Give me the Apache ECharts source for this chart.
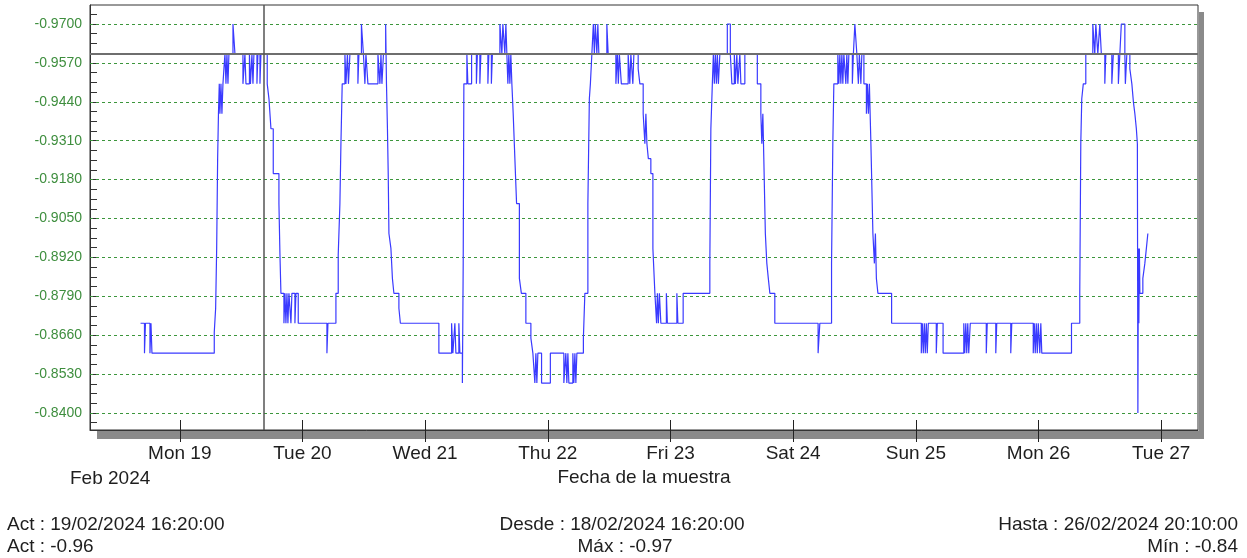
<!DOCTYPE html>
<html><head><meta charset="utf-8">
<script src="https://cdn.jsdelivr.net/npm/echarts@6/dist/echarts.min.js"></script>
<style>html,body{margin:0;padding:0;background:#fff}#c{width:1247px;height:558px}</style>
</head><body><div id="c"></div>
<script>
// sample change points: hours from Mon 19 Feb 2024 00:00, and value
const hoursFromMon19 = [
-7.67,-6.90,-6.71,-5.83,-5.63,-5.44,6.75,7.02,7.22,7.41,7.57,7.73,7.86,8.06,8.25,8.45,8.64,8.84,9.04,9.23,9.43,9.62,10.41,10.80,12.36,12.75,12.95,13.63,13.83,14.12,14.32,14.51,15.10,15.29,15.69,15.88,
17.11,17.45,17.84,18.29,19.40,19.60,19.79,20.38,20.58,20.77,20.97,21.16,21.36,21.75,21.94,22.53,22.73,23.18,28.79,28.99,
30.55,31.00,31.33,31.53,31.78,32.31,32.51,32.80,33.00,33.29,34.85,35.05,35.54,35.93,36.22,36.42,36.81,38.77,39.16,39.36,39.55,39.85,40.28,
40.44,40.63,40.78,40.92,41.31,41.60,41.89,42.87,43.16,50.69,53.18,53.43,53.82,54.02,54.60,54.80,55.29,55.45,55.58,
56.17,56.36,57.09,58.03,58.22,58.71,58.91,60.28,60.47,60.96,61.16,62.63,63.02,63.21,63.60,63.80,63.99,64.19,64.38,64.58,64.77,64.97,
65.23,65.56,65.89,66.44,66.83,67.71,68.69,69.08,69.47,69.67,69.86,70.06,70.78,72.50,75.14,75.53,75.73,75.93,76.12,76.90,77.10,77.30,77.49,77.69,
78.96,79.25,79.84,80.13,80.33,80.62,80.91,81.11,81.30,81.60,81.79,81.99,83.55,83.81,85.32,85.61,85.80,86.00,86.39,87.72,88.05,88.25,88.64,88.84,
89.68,90.01,90.66,90.99,91.19,91.39,91.67,92.16,92.56,92.95,93.28,93.44,93.63,93.83,94.12,95.20,95.39,97.25,97.45,98.48,
103.70,103.90,104.19,104.39,104.58,104.78,104.98,105.17,105.37,105.66,107.12,107.71,108.01,108.49,108.69,108.98,109.18,109.57,109.77,110.55,
112.99,113.68,113.87,114.07,114.26,114.56,114.85,115.14,115.44,116.41,124.88,125.22,
127.51,127.76,127.96,128.74,128.94,129.13,129.33,129.53,129.72,129.92,130.31,130.50,130.70,130.90,131.58,131.78,132.07,132.46,132.76,132.95,133.25,133.44,133.84,
134.33,134.52,134.72,134.91,135.21,135.60,135.89,136.09,136.28,136.58,139.26,
145.07,145.27,145.46,145.66,145.85,146.05,146.24,146.44,148.00,148.20,149.33,153.38,153.57,153.77,153.96,154.16,154.35,154.65,157.78,157.97,159.64,159.83,162.57,162.77,
166.97,167.17,167.36,167.56,167.76,167.95,168.25,168.45,168.64,174.45,
176.07,176.27,176.46,176.76,177.25,178.62,179.01,179.21,179.60,179.99,180.29,180.97,181.17,182.34,182.64,183.62,183.91,184.20,184.89,184.99,185.28,
185.87,186.26,186.56,186.85,187.14,187.34,187.44,187.54,187.63,187.73,187.83,188.41,188.80,189.10,189.39
];
const sampleValues = [
-0.87,-0.86,-0.87,-0.86,-0.87,-0.86,-0.867,-0.875,-0.895,-0.925,-0.94,-0.95,-0.94,-0.95,-0.94,-0.95,-0.955,-0.96,-0.95,-0.96,-0.95,-0.96,-0.97,-0.96,-0.95,-0.96,-0.95,-0.96,-0.95,-0.96,-0.95,-0.96,-0.95,-0.96,-0.95,-0.96,
-0.95,-0.945,-0.935,-0.92,-0.91,-0.893,-0.88,-0.87,-0.88,-0.87,-0.88,-0.87,-0.88,-0.87,-0.88,-0.87,-0.88,-0.87,-0.86,-0.87,
-0.88,-0.893,-0.91,-0.93,-0.95,-0.96,-0.95,-0.96,-0.95,-0.96,-0.95,-0.96,-0.97,-0.96,-0.95,-0.96,-0.95,-0.96,-0.95,-0.96,-0.95,-0.96,-0.97,
-0.95,-0.935,-0.92,-0.90,-0.895,-0.885,-0.88,-0.875,-0.87,-0.86,-0.87,-0.86,-0.87,-0.86,-0.87,-0.86,-0.85,-0.89,-0.95,
-0.96,-0.95,-0.96,-0.95,-0.96,-0.95,-0.96,-0.95,-0.96,-0.95,-0.96,-0.97,-0.96,-0.97,-0.96,-0.97,-0.96,-0.95,-0.96,-0.95,-0.96,-0.95,
-0.94,-0.925,-0.91,-0.885,-0.88,-0.87,-0.865,-0.86,-0.85,-0.86,-0.85,-0.86,-0.85,-0.86,-0.85,-0.86,-0.85,-0.86,-0.85,-0.86,-0.85,-0.86,-0.85,-0.86,
-0.865,-0.88,-0.91,-0.945,-0.95,-0.96,-0.97,-0.96,-0.97,-0.96,-0.97,-0.96,-0.97,-0.96,-0.95,-0.96,-0.95,-0.96,-0.95,-0.96,-0.95,-0.96,-0.95,-0.96,
-0.955,-0.95,-0.94,-0.93,-0.94,-0.93,-0.925,-0.92,-0.895,-0.88,-0.87,-0.88,-0.87,-0.88,-0.87,-0.88,-0.87,-0.88,-0.87,-0.88,
-0.89,-0.935,-0.95,-0.96,-0.95,-0.96,-0.95,-0.96,-0.95,-0.96,-0.97,-0.96,-0.95,-0.96,-0.95,-0.96,-0.95,-0.96,-0.95,-0.96,
-0.95,-0.94,-0.93,-0.94,-0.925,-0.90,-0.89,-0.885,-0.88,-0.87,-0.86,-0.87,
-0.89,-0.93,-0.95,-0.96,-0.95,-0.96,-0.95,-0.96,-0.95,-0.96,-0.95,-0.96,-0.95,-0.96,-0.95,-0.96,-0.97,-0.96,-0.95,-0.96,-0.95,-0.96,-0.95,
-0.94,-0.95,-0.94,-0.95,-0.93,-0.90,-0.89,-0.90,-0.885,-0.88,-0.87,
-0.86,-0.87,-0.86,-0.87,-0.86,-0.87,-0.86,-0.87,-0.86,-0.87,-0.86,-0.87,-0.86,-0.87,-0.86,-0.87,-0.86,-0.87,-0.86,-0.87,-0.86,-0.87,-0.86,-0.87,
-0.86,-0.87,-0.86,-0.87,-0.86,-0.87,-0.86,-0.87,-0.86,-0.87,
-0.88,-0.93,-0.945,-0.95,-0.96,-0.97,-0.96,-0.97,-0.96,-0.97,-0.96,-0.95,-0.96,-0.95,-0.96,-0.95,-0.96,-0.97,-0.96,-0.95,-0.96,
-0.955,-0.95,-0.944,-0.94,-0.935,-0.93,-0.84,-0.895,-0.87,-0.895,-0.88,-0.885,-0.89,-0.895,-0.90
];
const yTickValues = [-0.97,-0.957,-0.944,-0.931,-0.918,-0.905,-0.892,-0.879,-0.866,-0.853,-0.84];
const dayTickHours = [0,24,48,72,96,120,144,168,192];
const dayTickLabels = ['Mon 19','Tue 20','Wed 21','Thu 22','Fri 23','Sat 24','Sun 25','Mon 26','Tue 27'];
const actHour = 16 + 20/60;
const actValue = -0.96;
const axisMinHour = -17.56, axisMaxHour = 199.2;
const yMin = -0.97635, yMax = -0.83432;
const footer = {
  actTime: 'Act : 19/02/2024 16:20:00', actVal: 'Act : -0.96',
  desde: 'Desde : 18/02/2024 16:20:00', max: 'Máx : -0.97',
  hasta: 'Hasta : 26/02/2024 20:10:00', min: 'Mín : -0.84'
};

const n = Math.min(hoursFromMon19.length, sampleValues.length);
const seriesData = [];
for (let i = 0; i < n; i++) seriesData.push([hoursFromMon19[i], sampleValues[i]]);
const minorTicks = [];
for (let v = -0.97 - 0.00325; v <= yMax + 1e-9; v += 0.00325) minorTicks.push(+v.toFixed(5));

const FONT = '"Liberation Sans", Arial, sans-serif';
const TXT = '#1e1e1e';
const chart = echarts.init(document.getElementById('c'), null, {renderer:'canvas'});
chart.setOption({
  animation: false,
  backgroundColor: '#fff',
  grid: {left: 90, top: 5, right: 49, bottom: 128, show: true, borderColor: '#333', borderWidth: 1, backgroundColor: '#fff'},
  xAxis: [{
    type: 'value', min: axisMinHour, max: axisMaxHour,
    name: 'Fecha de la muestra', nameLocation: 'middle', nameGap: 38,
    nameTextStyle: {fontFamily: FONT, fontSize: 19, color: TXT},
    axisLine: {show: true, onZero: false, lineStyle: {color: '#333', width: 1}},
    axisTick: {show: true, customValues: dayTickHours, inside: false, length: 12, lineStyle: {color: '#222'}},
    axisLabel: {customValues: dayTickHours, fontFamily: FONT, fontSize: 19, color: TXT, margin: 14,
      formatter: v => { const i = dayTickHours.indexOf(Math.round(v)); return i >= 0 ? dayTickLabels[i] : ''; }},
    splitLine: {show: false}
  },{
    type: 'value', min: axisMinHour, max: axisMaxHour, position: 'bottom',
    axisLine: {show: false, onZero: false},
    axisTick: {show: true, customValues: dayTickHours, inside: true, length: 10, lineStyle: {color: '#222'}},
    axisLabel: {show: false}, splitLine: {show: false}
  }],
  yAxis: {
    type: 'value', inverse: true, min: yMin, max: yMax,
    axisLine: {show: true, onZero: false, lineStyle: {color: '#333'}},
    axisTick: {show: true, inside: true, length: 7, customValues: minorTicks, lineStyle: {color: '#333'}},
    axisLabel: {customValues: yTickValues, fontFamily: FONT, fontSize: 14, color: '#3e8e3e', margin: 8,
      formatter: v => v.toFixed(4)},
    splitLine: {show: false}
  },
  series: [
    {
      type: 'line', name: 'grid', data: [], silent: true, z: 1,
      markLine: {silent: true, symbol: 'none', z: 1, precision: 6, label: {show: false},
        lineStyle: {color: '#3c963c', type: [3, 3], width: 1},
        data: yTickValues.map(v => ({yAxis: v}))}
    },
    {
      type: 'line', name: 'muestra', data: seriesData, step: 'end', showSymbol: false, z: 3,
      lineStyle: {color: '#3a3aff', width: 1.2}, itemStyle: {color: '#3a3aff'}
    },
    {
      type: 'line', name: 'cursor', data: [], silent: true, z: 6,
      markLine: {silent: true, symbol: 'none', z: 6, precision: 6, label: {show: false},
        data: [
          {yAxis: actValue, lineStyle: {color: '#6e6e6e', width: 2, type: 'solid'}},
          {xAxis: actHour, lineStyle: {color: '#555', width: 1.5, type: 'solid'}}
        ]}
    }
  ],
  graphic: [
    {type: 'rect', shape: {x: 97, y: 431, width: 1107, height: 8}, style: {fill: '#8a8a8a'}, z: -1},
    {type: 'rect', shape: {x: 1199, y: 12, width: 5, height: 427}, style: {fill: '#8a8a8a'}, z: -1},
    {type: 'text', x: 70, y: 479, style: {text: 'Feb 2024', font: '19px ' + FONT, fill: TXT, verticalAlign: 'middle'}},
    {type: 'text', x: 7, y: 525, style: {text: footer.actTime, font: '19px ' + FONT, fill: TXT, verticalAlign: 'middle'}},
    {type: 'text', x: 7, y: 547, style: {text: footer.actVal, font: '19px ' + FONT, fill: TXT, verticalAlign: 'middle'}},
    {type: 'text', x: 622, y: 525, style: {text: footer.desde, font: '19px ' + FONT, fill: TXT, align: 'center', verticalAlign: 'middle'}},
    {type: 'text', x: 625, y: 547, style: {text: footer.max, font: '19px ' + FONT, fill: TXT, align: 'center', verticalAlign: 'middle'}},
    {type: 'text', x: 1238, y: 525, style: {text: footer.hasta, font: '19px ' + FONT, fill: TXT, align: 'right', verticalAlign: 'middle'}},
    {type: 'text', x: 1238, y: 547, style: {text: footer.min, font: '19px ' + FONT, fill: TXT, align: 'right', verticalAlign: 'middle'}}
  ]
});
</script></body></html>
